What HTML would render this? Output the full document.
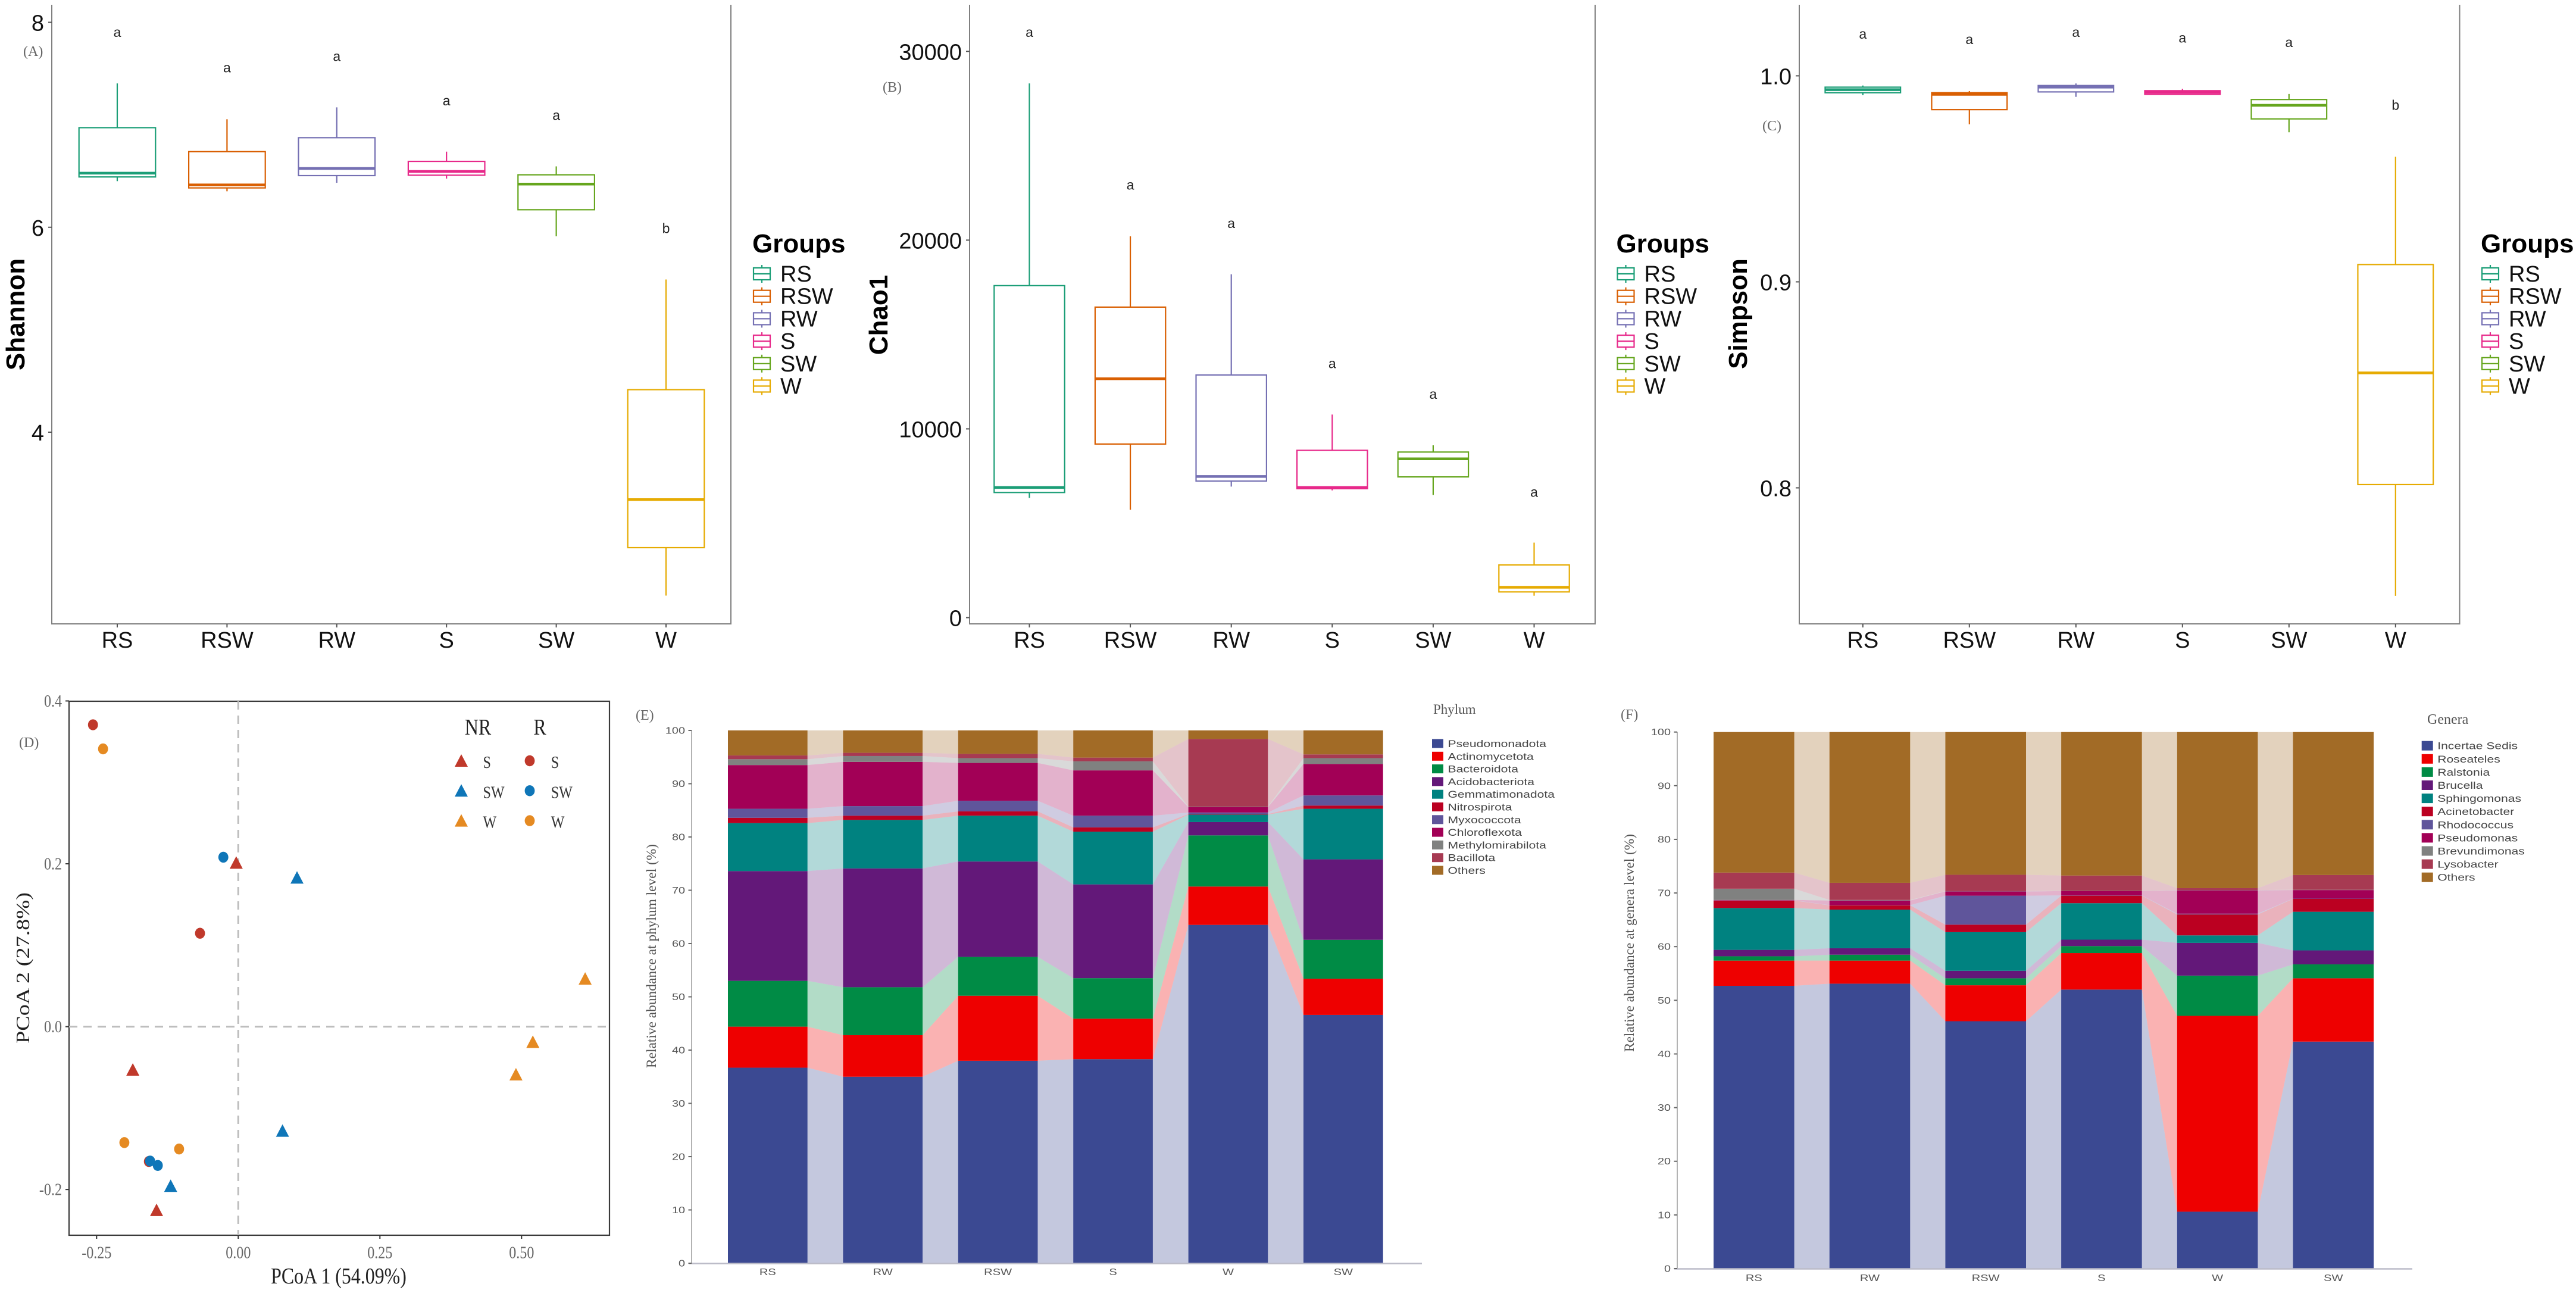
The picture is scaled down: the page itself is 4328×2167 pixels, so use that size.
<!DOCTYPE html>
<html lang="en">
<head>
<meta charset="utf-8">
<title>Microbial diversity and community composition panels</title>
<style>
html,body{margin:0;padding:0;background:#fff;}
svg{display:block;}
.sans{font-family:"Liberation Sans",sans-serif;}
.serif{font-family:"Liberation Serif",serif;}
</style>
</head>
<body>
<svg id="figure" xmlns="http://www.w3.org/2000/svg" width="4328" height="2167" viewBox="0 0 4328 2167">
  <rect x="0" y="0" width="4328" height="2167" fill="#ffffff"/>

  <g id="panelA"></g>
  <g id="panelB"></g>
  <g id="panelC"></g>
  <g id="panelD"></g>
  <g id="panelE"></g>
  <g id="panelF"></g>

  <g class="serif" fill="#666" font-size="24">
    <text x="39" y="94">(A)</text>
    <text x="1483" y="154">(B)</text>
    <text x="2961" y="219">(C)</text>
    <text x="32" y="1255">(D)</text>
    <text x="1068" y="1209">(E)</text>
    <text x="2723" y="1208">(F)</text>
  </g>

  <g>
    <text class="sans" font-weight="700" font-size="44" fill="#000" text-anchor="middle" transform="translate(41,528) rotate(-90)">Shannon</text>
    <text class="sans" font-weight="700" font-size="44" fill="#000" text-anchor="middle" transform="translate(1491,529) rotate(-90)">Chao1</text>
    <text class="sans" font-weight="700" font-size="44" fill="#000" text-anchor="middle" transform="translate(2935,527) rotate(-90)">Simpson</text>
    <text class="serif" font-size="38" fill="#222" text-anchor="middle" transform="translate(569,2156) scale(0.84,1)">PCoA 1 (54.09%)</text>
    <text class="serif" font-size="32" fill="#222" text-anchor="middle" textLength="254" lengthAdjust="spacingAndGlyphs" transform="translate(49,1626) rotate(-90)">PCoA 2 (27.8%)</text>
    <text class="serif" font-size="23" fill="#555" text-anchor="middle" textLength="376" lengthAdjust="spacingAndGlyphs" transform="translate(1102,1606) rotate(-90)">Relative abundance at phylum level (%)</text>
    <text class="serif" font-size="23" fill="#555" text-anchor="middle" textLength="366" lengthAdjust="spacingAndGlyphs" transform="translate(2745,1584) rotate(-90)">Relative abundance at genera level (%)</text>
  </g>

  <g class="serif" font-size="38" fill="#222" text-anchor="middle">
    <text transform="translate(803,1234) scale(0.84,1)">NR</text>
    <text transform="translate(907,1234) scale(0.84,1)">R</text>
  </g>

  <text class="serif" font-size="23" fill="#555" x="2408" y="1199">Phylum</text>
  <text class="serif" font-size="24" fill="#555" x="4078" y="1216">Genera</text>
</svg>

<script>
/* ---------- box plot data ---------- */
const boxGroups = ['RS','RSW','RW','S','SW','W'];
const boxColors = ['#1b9e77','#d95f02','#7570b3','#e7298a','#66a61e','#e6ab02'];

const shannonTicks = [8,6,4];
const shannonHigh = [7.404,7.054,7.170,6.738,6.594,5.490];
const shannonQ3   = [6.972,6.738,6.874,6.643,6.512,4.415];
const shannonMed  = [6.528,6.413,6.574,6.545,6.421,3.342];
const shannonQ1   = [6.491,6.384,6.504,6.508,6.171,2.873];
const shannonLow  = [6.450,6.351,6.434,6.475,5.912,2.405];
const shannonSig  = ['a','a','a','a','a','b'];
const shannonSigAt = [7.897,7.552,7.663,7.231,7.087,5.984];

const chaoTicks = [30000,20000,10000,0];
const chaoHigh = [28304,20201,18192,10759,9129,3973];
const chaoQ3   = [17589,16451,12857,8862,8772,2790];
const chaoMed  = [6897,12656,7478,6897,8415,1607];
const chaoQ1   = [6629,9196,7232,6830,7455,1362];
const chaoLow  = [6339,5714,6942,6741,6496,1161];
const chaoSig  = ['a','a','a','a','a','a'];
const chaoSigAt = [30982,22902,20871,13437,11808,6629];

const simpsonTicks = [1.0,0.9,0.8];
const simpsonHigh = [0.9953,0.9926,0.9963,0.9937,0.9912,0.9607];
const simpsonQ3   = [0.9945,0.9918,0.9953,0.9928,0.9885,0.9084];
const simpsonMed  = [0.9933,0.9910,0.9945,0.9920,0.9857,0.8558];
const simpsonQ1   = [0.9918,0.9836,0.9922,0.9910,0.9791,0.8016];
const simpsonLow  = [0.9906,0.9765,0.9898,0.9908,0.9726,0.7476];
const simpsonSig  = ['a','a','a','a','a','b'];
const simpsonSigAt = [1.0200,1.0174,1.0209,1.0182,1.0160,0.9855];

/* ---------- PCoA data ---------- */
const pcoaXTicks = [-0.25,0,0.25,0.5];
const pcoaYTicks = [0.4,0.2,0,-0.2];
const nrSX = [-0.0036,-0.1861,-0.1442];
const nrSY = [0.2012,-0.0529,-0.2254];
const nrSWX = [0.1037,0.0781,-0.1193];
const nrSWY = [0.1829,-0.1280,-0.1957];
const nrWX = [0.6122,0.5199,0.4901];
const nrWY = [0.0588,-0.0188,-0.0588];
const rSX = [-0.2564,-0.0675,-0.1577];
const rSY = [0.3707,0.1147,-0.1656];
const rSWX = [-0.0263,-0.1555,-0.1420];
const rSWY = [0.2081,-0.1651,-0.1705];
const rWX = [-0.2386,-0.2010,-0.1044];
const rWY = [0.3411,-0.1424,-0.1503];

/* ---------- stacked bar data ---------- */
const stackCategories = ['RS','RW','RSW','S','W','SW'];
const stackTicks = [0,10,20,30,40,50,60,70,80,90,100];
const stackColors = ['#3b4992','#ee0000','#008b45','#631879','#008280','#bb0021','#5f559b','#a20056','#808180','#a73a52','#a26b26'];

const phylumNames = ['Pseudomonadota','Actinomycetota','Bacteroidota','Acidobacteriota','Gemmatimonadota','Nitrospirota','Myxococcota','Chloroflexota','Methylomirabilota','Bacillota','Others'];
const pseudomonadota = [36.7,35.0,38.0,38.3,63.5,46.6];
const actinomycetota = [7.7,7.8,12.2,7.6,7.2,6.8];
const bacteroidota = [8.6,9.0,7.3,7.6,9.6,7.3];
const acidobacteriota = [20.6,22.3,17.9,17.6,2.5,15.1];
const gemmatimonadota = [9.0,9.1,8.6,9.9,1.4,9.5];
const nitrospirota = [1.0,0.8,0.8,0.8,0.1,0.6];
const myxococcota = [1.7,1.8,2.0,2.2,0.3,1.9];
const chloroflexota = [8.2,8.3,7.1,8.5,1.0,5.9];
const methylomirabilota = [1.1,1.1,0.9,1.7,0.1,1.1];
const bacillota = [0.7,0.6,0.8,0.7,12.7,0.7];
const phylumOthers = [4.7,4.2,4.4,5.1,1.6,4.5];

const generaNames = ['Incertae Sedis','Roseateles','Ralstonia','Brucella','Sphingomonas','Acinetobacter','Rhodococcus','Pseudomonas','Brevundimonas','Lysobacter','Others'];
const incertaeSedis = [52.7,53.1,46.1,52.0,10.6,42.3];
const roseateles = [4.7,4.3,6.7,6.8,36.5,11.8];
const ralstonia = [0.8,1.1,1.3,1.3,7.5,2.6];
const brucella = [1.2,1.2,1.4,1.2,6.1,2.6];
const sphingomonas = [7.8,7.2,7.2,6.8,1.4,7.2];
const acinetobacter = [1.4,0.8,1.4,1.4,3.9,2.4];
const rhodococcus = [0.05,0.05,5.4,0.05,0.15,0.05];
const pseudomonas = [0.05,0.85,0.8,0.8,4.35,1.6];
const brevundimonas = [2.1,0.1,0.05,0.05,0.05,0.05];
const lysobacter = [3.0,3.2,3.05,2.85,0.35,2.75];
const generaOthers = [26.2,28.1,26.6,26.75,29.1,26.65];

/* ---------- helpers ---------- */
const NS = 'http://www.w3.org/2000/svg';
function shape(parent, tag, props){
  const el = document.createElementNS(NS, tag);
  for (const k in props) el.setAttribute(k, props[k]);
  parent.appendChild(el);
  return el;
}
function label(parent, str, x, y, size, fill, family, anchor, sx){
  const el = document.createElementNS(NS, 'text');
  el.textContent = str;
  el.setAttribute('font-family', family);
  el.setAttribute('font-size', size);
  el.setAttribute('fill', fill);
  el.setAttribute('text-anchor', anchor);
  el.setAttribute('transform', 'translate(' + x + ',' + y + ') scale(' + (sx || 1) + ',1)');
  parent.appendChild(el);
  return el;
}
function slug(s){ return String(s).toLowerCase().replace(/[^a-z0-9]+/g,'-'); }
const SANS = '"Liberation Sans",sans-serif';
const SERIF = '"Liberation Serif",serif';

/* ---------- box plot ---------- */
function drawBoxPanel(root, p, ticks, high, q3, med, q1, low, sig, sigAt){
  const k = (p.pxB - p.pxA) / (p.valB - p.valA);
  const yAxis = v => p.pxA + (v - p.valA) * k;
  const xAxis = i => p.x0 + i * p.step;

  const frame = shape(root, 'path', {d:'M'+p.left+' 8V'+p.bottom+'H'+p.right+'V8', fill:'none', stroke:'#808080', 'stroke-width':2});
  
  

  ticks.forEach(t => {
    const y = yAxis(t);
    const mark = shape(root, 'line', {x1:p.left-6, x2:p.left, y1:y, y2:y, stroke:'#555', 'stroke-width':2});
    
    
    const text = label(root, p.fmt(t), p.left-13, y+14, 38, '#111', SANS, 'end');
    
    
  });

  boxGroups.forEach((g, i) => {
    const x = xAxis(i), c = boxColors[i], w = p.boxW;
    const tick = shape(root, 'line', {x1:x, x2:x, y1:p.bottom, y2:p.bottom+6, stroke:'#555', 'stroke-width':2});
    
    
    const cat = label(root, g, x, p.bottom+40, 38, '#111', SANS, 'middle');
    
    

    const wh = shape(root, 'line', {x1:x, x2:x, y1:yAxis(high[i]), y2:yAxis(q3[i]), stroke:c, 'stroke-width':2.2});
    
    
    const wl = shape(root, 'line', {x1:x, x2:x, y1:yAxis(q1[i]), y2:yAxis(low[i]), stroke:c, 'stroke-width':2.2});
    
    
    const box = shape(root, 'rect', {x:x-w/2, y:yAxis(q3[i]), width:w, height:yAxis(q1[i])-yAxis(q3[i]), fill:'#fff', stroke:c, 'stroke-width':2.2});
    
    
    const m = shape(root, 'line', {x1:x-w/2, x2:x+w/2, y1:yAxis(med[i]), y2:yAxis(med[i]), stroke:c, 'stroke-width':4.5});
    
    
    const s = label(root, sig[i], x, yAxis(sigAt[i])+7, 23, '#222', SANS, 'middle');
    
    
  });

  const title = label(root, 'Groups', p.legendX-2, 424, 44, '#000', SANS, 'start');
  title.setAttribute('font-weight', '700');
  
  
  boxGroups.forEach((g, i) => {
    const cy = 460 + i * 37.7, kx = p.legendX, c = boxColors[i];
    const entry = shape(root, 'g', {});
    
    
    shape(entry, 'line', {x1:kx+14, x2:kx+14, y1:cy-15, y2:cy+15, stroke:c, 'stroke-width':2.2});
    shape(entry, 'rect', {x:kx, y:cy-10, width:28, height:20, fill:'#fff', stroke:c, 'stroke-width':2.2});
    shape(entry, 'line', {x1:kx, x2:kx+28, y1:cy, y2:cy, stroke:c, 'stroke-width':2.2});
    const lt = label(entry, g, kx+45, cy+13, 38, '#111', SANS, 'start');
    
    
  });
}

drawBoxPanel(document.getElementById('panelA'),
  {id:'shannon', left:87, right:1228, bottom:1048, valA:8, pxA:37.5, valB:4, pxB:726, x0:197, step:184.4, boxW:128.6, legendX:1266, fmt:v=>String(v)},
  shannonTicks, shannonHigh, shannonQ3, shannonMed, shannonQ1, shannonLow, shannonSig, shannonSigAt);
drawBoxPanel(document.getElementById('panelB'),
  {id:'chao1', left:1629, right:2680, bottom:1048, valA:30000, pxA:86.3, valB:0, pxB:1037.5, x0:1729.5, step:169.6, boxW:118.4, legendX:2717.5, fmt:v=>String(v)},
  chaoTicks, chaoHigh, chaoQ3, chaoMed, chaoQ1, chaoLow, chaoSig, chaoSigAt);
drawBoxPanel(document.getElementById('panelC'),
  {id:'simpson', left:3023, right:4132.5, bottom:1048, valA:1.0, pxA:127.4, valB:0.8, pxB:819.5, x0:3129.8, step:179, boxW:126.7, legendX:4170, fmt:v=>v.toFixed(1)},
  simpsonTicks, simpsonHigh, simpsonQ3, simpsonMed, simpsonQ1, simpsonLow, simpsonSig, simpsonSigAt);

/* ---------- PCoA ---------- */
(function(){
  const root = document.getElementById('panelD');
  const L = 116, R = 1024, T = 1178, B = 2075;
  const xAxis = v => 400.3 + v * 952;
  const yAxis = v => 1724.6 - v * 1367.8;

  const plot = shape(root, 'rect', {x:L, y:T, width:R-L, height:B-T, fill:'#fff', stroke:'#3a3a3a', 'stroke-width':2.2});
  
  
  const h0 = shape(root, 'line', {x1:L, x2:R, y1:yAxis(0), y2:yAxis(0), stroke:'#bdbdbd', 'stroke-width':3, 'stroke-dasharray':'14 10'});
  
  
  const v0 = shape(root, 'line', {x1:xAxis(0), x2:xAxis(0), y1:T, y2:B, stroke:'#bdbdbd', 'stroke-width':3, 'stroke-dasharray':'14 10'});
  
  

  pcoaXTicks.forEach(t => {
    const x = xAxis(t);
    const m = shape(root, 'line', {x1:x, x2:x, y1:B, y2:B+6, stroke:'#333', 'stroke-width':2});
    
    
    const l = label(root, t.toFixed(2), x, 2113.5, 29, '#666', SERIF, 'middle', 0.83);
    
    
  });
  pcoaYTicks.forEach(t => {
    const y = yAxis(t);
    const m = shape(root, 'line', {x1:L-6, x2:L, y1:y, y2:y, stroke:'#333', 'stroke-width':2});
    
    
    const l = label(root, t.toFixed(1), 104, y+9.5, 29, '#666', SERIF, 'end', 0.83);
    
    
  });

  const RED = '#c0392b', BLUE = '#0f76b8', ORANGE = '#e58a22';
  function triPoints(x, y){ return (x-11)+','+(y+10)+' '+(x+11)+','+(y+10)+' '+x+','+(y-11); }
  function triangles(xs, ys, color, name){
    xs.forEach((v, i) => {
      const t = shape(root, 'polygon', {points:triPoints(xAxis(v), yAxis(ys[i])), fill:color});
      
      
    });
  }
  function circles(xs, ys, color, name){
    xs.forEach((v, i) => {
      const c = shape(root, 'ellipse', {cx:xAxis(v), cy:yAxis(ys[i]), rx:8.4, ry:9.2, fill:color});
      
      
    });
  }
  triangles(nrSX, nrSY, RED, 'point-nr-s');
  triangles(nrSWX, nrSWY, BLUE, 'point-nr-sw');
  triangles(nrWX, nrWY, ORANGE, 'point-nr-w');
  circles(rSX, rSY, RED, 'point-r-s');
  circles(rWX, rWY, ORANGE, 'point-r-w');
  circles(rSWX, rSWY, BLUE, 'point-r-sw');

  const legendLabels = ['S','SW','W'];
  const legendColors = [RED, BLUE, ORANGE];
  legendLabels.forEach((n, i) => {
    const y = 1278 + i * 50.3;
    const a = shape(root, 'polygon', {points:triPoints(775, y), fill:legendColors[i]});
    
    
    const at = label(root, n, 811.5, y+12, 29, '#333', SERIF, 'start', 0.83);
    
    
    const b = shape(root, 'ellipse', {cx:890, cy:y, rx:8.4, ry:9.2, fill:legendColors[i]});
    
    
    const bt = label(root, n, 925.7, y+12, 29, '#333', SERIF, 'start', 0.83);
    
    
  });
})();

/* ---------- stacked bars ---------- */
function drawStackPanel(root, p, names, series){
  const yAxis = v => p.y0 + (p.y100 - p.y0) * v / 100;
  const xAxis = i => p.x0 + i * p.step;
  const n = stackCategories.length;
  const bottoms = new Array(n).fill(0);

  series.forEach((vals, s) => {
    const tops = vals.map((v, i) => bottoms[i] + v);
    for (let i = 0; i < n - 1; i++){
      const xa = xAxis(i) + p.w, xb = xAxis(i + 1);
      const pts = xa+','+yAxis(bottoms[i])+' '+xa+','+yAxis(tops[i])+' '+xb+','+yAxis(tops[i+1])+' '+xb+','+yAxis(bottoms[i+1]);
      const link = shape(root, 'polygon', {points:pts, fill:stackColors[s], 'fill-opacity':0.3});
      
      
    }
    vals.forEach((v, i) => {
      const bar = shape(root, 'rect', {x:xAxis(i), y:yAxis(tops[i]), width:p.w, height:yAxis(bottoms[i])-yAxis(tops[i]), fill:stackColors[s]});
      
      
    });
    tops.forEach((t, i) => { bottoms[i] = t; });
  });

  const ya = shape(root, 'line', {x1:p.axisX, x2:p.axisX, y1:yAxis(100), y2:yAxis(0), stroke:'#a0a0a0', 'stroke-width':1.6});
  
  
  const xa = shape(root, 'line', {x1:p.axisX-5, x2:p.axisEnd, y1:yAxis(0)+0.5, y2:yAxis(0)+0.5, stroke:'#bcbcc8', 'stroke-width':2.4});
  
  

  stackTicks.forEach(t => {
    const y = yAxis(t);
    const m = shape(root, 'line', {x1:p.axisX-5.5, x2:p.axisX, y1:y, y2:y, stroke:'#666', 'stroke-width':2});
    
    
    const l = label(root, String(t), p.axisX-11, y+5.5, 15.5, '#555', SANS, 'end', 1.28);
    
    
  });
  stackCategories.forEach((c, i) => {
    const l = label(root, c, xAxis(i) + p.w/2, p.catY, 16, '#555', SANS, 'middle', 1.26);
    
    
  });

  names.forEach((nm, i) => {
    const y = p.legY + i * p.legStep;
    const sw = shape(root, 'rect', {x:p.legX, y:y-p.swH/2, width:19, height:p.swH, fill:stackColors[i]});
    
    
    const tx = label(root, nm, p.legX+26.5, y+6, 16.5, '#444', SANS, 'start', 1.28);
    
    
  });
}

drawStackPanel(document.getElementById('panelE'),
  {id:'phylum', y0:2122, y100:1227, x0:1223, step:193.4, w:133.7, axisX:1162, axisEnd:2389, catY:2142, legX:2406, legY:1249, legStep:21.3, swH:15},
  phylumNames,
  [pseudomonadota, actinomycetota, bacteroidota, acidobacteriota, gemmatimonadota, nitrospirota, myxococcota, chloroflexota, methylomirabilota, bacillota, phylumOthers]);
drawStackPanel(document.getElementById('panelF'),
  {id:'genera', y0:2131, y100:1229.7, x0:2879, step:194.7, w:135.6, axisX:2818, axisEnd:4053, catY:2152, legX:4068.7, legY:1252.7, legStep:22.1, swH:16},
  generaNames,
  [incertaeSedis, roseateles, ralstonia, brucella, sphingomonas, acinetobacter, rhodococcus, pseudomonas, brevundimonas, lysobacter, generaOthers]);
</script>
</body>
</html>
